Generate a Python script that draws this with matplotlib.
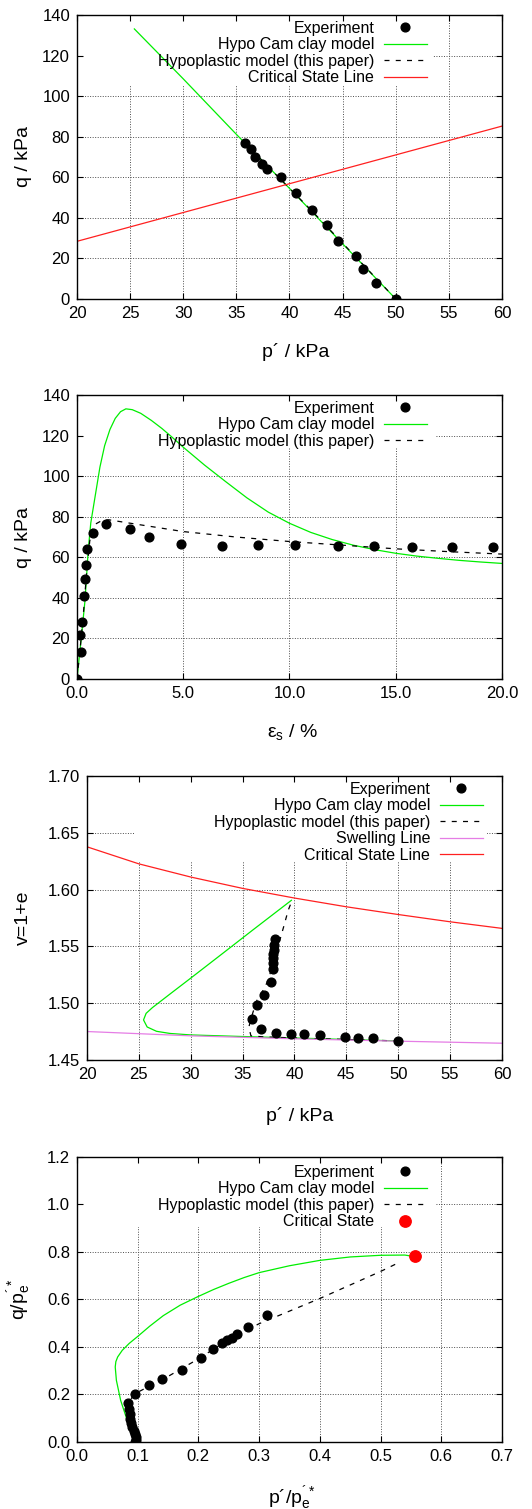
import numpy as np
import matplotlib
matplotlib.use("Agg")
import matplotlib.pyplot as plt
from matplotlib.patches import Rectangle

plt.rcParams['font.family'] = ['Liberation Sans', 'DejaVu Sans']
plt.rcParams['mathtext.fontset'] = 'custom'
plt.rcParams['mathtext.rm'] = 'Liberation Sans'
plt.rcParams['mathtext.it'] = 'Liberation Sans'
plt.rcParams['mathtext.default'] = 'regular'

# ---- panel 1: stress path p' - q
p1_exp = [35.8, 36.4, 36.8, 37.4, 37.9, 39.2, 40.6, 42.1, 43.5, 44.6, 46.3, 46.9, 48.1, 50.0]
q1_exp = [76.8, 73.9, 70.2, 66.6, 64.2, 60.2, 52.4, 44.0, 36.4, 28.4, 21.0, 14.8, 8.0, 0.0]
p1_cam = [25.4, 30.0, 35.1, 40.0, 45.0, 50.0]
q1_cam = [133.1, 108.5, 80.6, 54.5, 27.2, 0.0]
p1_hypo = [35.7, 37.0, 38.5, 40.0, 42.0, 44.0, 46.0, 48.0, 50.0]
q1_hypo = [77.5, 70.5, 62.5, 54.5, 44.0, 33.0, 22.0, 11.0, 0.0]
p1_csl = [20.0, 60.0]
q1_csl = [28.4, 85.2]

# ---- panel 2: shear strain - q
eps2_exp = [0.0, 0.17, 0.14, 0.24, 0.35, 0.38, 0.42, 0.49, 0.77, 1.38, 2.51, 3.40,
            4.91, 6.82, 8.53, 10.27, 12.30, 14.0, 15.76, 17.66, 19.6]
q2_exp = [0.0, 13.1, 21.7, 27.9, 40.7, 49.4, 56.3, 64.0, 71.9, 76.5, 74.2, 70.1,
          66.6, 65.8, 66.1, 66.3, 65.8, 65.8, 65.3, 65.3, 65.0]
eps2_cam = [0.0, 0.2, 0.38, 0.53, 0.65, 0.9, 1.08, 1.3, 1.55, 1.8, 2.05, 2.3, 2.6, 3.0,
            3.5, 4.0, 4.5, 5.0, 6.0, 7.0, 8.0, 9.0, 10.0, 11.0, 12.0, 13.0, 14.0, 15.0,
            16.0, 17.0, 18.0, 19.0, 20.0]
q2_cam = [0.0, 20.0, 39.0, 63.7, 77.0, 93.0, 104.5, 115.0, 123.0, 128.5, 131.8, 133.2, 132.8,
          131.0, 127.5, 123.5, 119.0, 114.3, 105.5, 97.3, 89.3, 82.3, 76.8, 72.3, 68.8, 66.0,
          63.8, 62.0, 60.6, 59.5, 58.5, 57.7, 57.0]
eps2_hypo = [0.0, 0.15, 0.3, 0.45, 0.6, 0.8, 1.2, 1.5, 3.0, 5.0, 7.5, 10.0, 12.5, 15.0, 17.5, 20.0]
q2_hypo = [0.0, 15.0, 32.0, 52.0, 68.0, 76.0, 78.3, 78.5, 76.0, 72.7, 70.0, 67.8, 66.0, 64.2, 62.8, 61.6]

# ---- panel 3: p' - specific volume
p3_exp = [50.0, 47.6, 46.1, 44.9, 42.5, 40.9, 39.7, 38.2, 36.8, 35.9, 36.35, 37.1, 37.7,
          37.9, 37.9, 37.95, 37.97, 38.0, 38.05, 38.08]
v3_exp = [1.4667, 1.4696, 1.4693, 1.4704, 1.4718, 1.4726, 1.4730, 1.4736, 1.4770, 1.4862,
          1.4982, 1.5070, 1.5190, 1.5298, 1.5350, 1.5395, 1.5433, 1.5468, 1.5512, 1.5561]
p3_cam = [50.0, 45.0, 40.0, 35.0, 30.0, 28.0, 26.7, 25.8, 25.45, 25.7, 26.3, 28.0, 30.0, 33.0, 36.0, 39.7]
v3_cam = [1.4667, 1.4680, 1.4693, 1.4706, 1.4720, 1.4733, 1.4752, 1.4790, 1.4852, 1.4910,
          1.4960, 1.5080, 1.5220, 1.5432, 1.5645, 1.5905]
p3_hypo = [50.0, 45.0, 40.0, 37.0, 35.8, 35.6, 36.0, 36.4, 37.2, 38.0, 38.5, 38.95, 39.4, 39.75]
v3_hypo = [1.4667, 1.4680, 1.4693, 1.4703, 1.4712, 1.4790, 1.4920, 1.5030, 1.5146, 1.5350,
           1.5526, 1.5670, 1.5819, 1.5900]
p3_swell = [20.0, 30.0, 40.0, 50.0, 60.0]
v3_swell = [1.4750, 1.4712, 1.4686, 1.4665, 1.4647]
p3_csl = [20.0, 25.0, 30.0, 35.0, 40.0, 45.0, 50.0, 55.0, 60.0]
v3_csl = [1.6376, 1.6226, 1.6110, 1.6010, 1.5925, 1.5848, 1.5780, 1.5716, 1.5658]

# ---- panel 4: normalised stress path
pn_exp = [0.0961, 0.0978, 0.0973, 0.0951, 0.0935, 0.0914, 0.0897, 0.0880, 0.0870, 0.0854,
          0.0838, 0.0956, 0.1178, 0.1405, 0.1724, 0.2043, 0.2243, 0.2384, 0.2473, 0.2545,
          0.2634, 0.2812, 0.3134]
qn_exp = [0.0, 0.0105, 0.0204, 0.0344, 0.0456, 0.0625, 0.0793, 0.0975, 0.1186, 0.1396,
          0.165, 0.2030, 0.2410, 0.2645, 0.3040, 0.3545, 0.3920, 0.4160, 0.4274, 0.4387,
          0.4556, 0.4838, 0.5364]
pn_cam = [0.0975, 0.0827, 0.0719, 0.0649, 0.0630, 0.0640, 0.0670, 0.0746, 0.0860, 0.0989,
          0.12, 0.1422, 0.17, 0.2, 0.225, 0.25, 0.275, 0.3, 0.35, 0.4, 0.45, 0.5, 0.54, 0.553]
qn_cam = [0.0, 0.0912, 0.1754, 0.2596, 0.3158, 0.3380, 0.3580, 0.386, 0.4150, 0.4421,
          0.4880, 0.5320, 0.5760, 0.6130, 0.6420, 0.6680, 0.6920, 0.7130, 0.742, 0.7646,
          0.7790, 0.7860, 0.7870, 0.7816]
pn_hypo = [0.0961, 0.0950, 0.0900, 0.0860, 0.0840, 0.0956, 0.15, 0.2, 0.25, 0.3, 0.35,
           0.4, 0.45, 0.5, 0.532]
qn_hypo = [0.0, 0.03, 0.08, 0.13, 0.165, 0.2035, 0.276, 0.350, 0.432, 0.498, 0.551,
           0.6042, 0.661, 0.718, 0.7576]
pn_cs = [0.5565]
qn_cs = [0.7816]

GREEN = '#00ee00'
RED = '#ff2020'
VIOLET = '#e57de5'
DASH = (0, (4, 5))


def style_axes(ax, xticks, yticks, xfmt, yfmt, box):
    ax.set_xlim(xticks[0], xticks[-1])
    ax.set_ylim(yticks[0], yticks[-1])
    ax.set_xticks(xticks)
    ax.set_yticks(yticks)
    ax.set_xticklabels([xfmt % t for t in xticks])
    ax.set_yticklabels([yfmt % t for t in yticks])
    ax.tick_params(direction='in', top=True, right=True, length=4, width=0.8,
                   labelsize=12, pad=5)
    for s in ax.spines.values():
        s.set_linewidth(1.0)
    # gnuplot style dotted grid
    for t in xticks[1:-1]:
        ax.axvline(t, color='0.3', lw=0.7, ls=(0, (1, 1.6)), zorder=0.5)
    for t in yticks[1:-1]:
        ax.axhline(t, color='0.3', lw=0.7, ls=(0, (1, 1.6)), zorder=0.5)
    # opaque key area hides grid only
    x0, x1, y0 = box
    ax.add_patch(Rectangle((x0, y0), x1 - x0, 1 - y0, transform=ax.transAxes,
                           facecolor='white', edgecolor='none', zorder=0.7))


def key(ax, anchor):
    leg = ax.legend(loc='upper right', bbox_to_anchor=anchor, frameon=False,
                    markerfirst=False, fontsize=11.5, handlelength=2.7,
                    handletextpad=0.6, labelspacing=0.1, borderpad=0,
                    borderaxespad=0, numpoints=1)
    return leg


fig = plt.figure(figsize=(5.32, 15.09), dpi=100)

# panel 1
ax = fig.add_axes([0.1447, 0.8019, 0.7989, 0.1882])
ax.plot(p1_exp, q1_exp, 'o', color='k', ms=6.3, label='Experiment', zorder=3)
ax.plot(p1_cam, q1_cam, color=GREEN, lw=0.9, label='Hypo Cam clay model', zorder=2)
ax.plot(p1_hypo, q1_hypo, color='k', lw=0.9, ls=DASH, label='Hypoplastic model (this paper)', zorder=2)
ax.plot(p1_csl, q1_csl, color=RED, lw=0.9, label='Critical State Line', zorder=2)
style_axes(ax, np.arange(20, 61, 5), np.arange(0, 141, 20), '%d', '%d', (0.0, 0.838, 0.754))
key(ax, (0.8235, 0.98))
ax.set_ylabel('q / kPa', fontsize=14)
ax.yaxis.set_label_coords(-0.106, 0.5)
ax.set_xlabel('p\u00b4 / kPa', fontsize=14)
ax.xaxis.set_label_coords(0.515, -0.155)

# panel 2
ax = fig.add_axes([0.1447, 0.5500, 0.7989, 0.1882])
ax.plot(eps2_exp, q2_exp, 'o', color='k', ms=6.3, label='Experiment', zorder=3)
ax.plot(eps2_cam, q2_cam, color=GREEN, lw=0.9, label='Hypo Cam clay model', zorder=2)
ax.plot(eps2_hypo, q2_hypo, color='k', lw=0.9, ls=DASH, label='Hypoplastic model (this paper)', zorder=2)
style_axes(ax, np.arange(0, 20.1, 5), np.arange(0, 141, 20), '%.1f', '%d', (0.0, 0.842, 0.813))
key(ax, (0.8235, 0.98))
ax.set_ylabel('q / kPa', fontsize=14)
ax.yaxis.set_label_coords(-0.106, 0.5)
ax.set_xlabel('\u03b5$_{s}$ / %', fontsize=14)
ax.xaxis.set_label_coords(0.508, -0.15)

# panel 3
ax = fig.add_axes([0.1635, 0.2976, 0.7801, 0.1882])
ax.plot(p3_exp, v3_exp, 'o', color='k', ms=6.3, label='Experiment', zorder=3)
ax.plot(p3_cam, v3_cam, color=GREEN, lw=0.9, label='Hypo Cam clay model', zorder=2)
ax.plot(p3_hypo, v3_hypo, color='k', lw=0.9, ls=DASH, label='Hypoplastic model (this paper)', zorder=2)
ax.plot(p3_swell, v3_swell, color=VIOLET, lw=0.9, label='Swelling Line', zorder=2)
ax.plot(p3_csl, v3_csl, color=RED, lw=0.9, label='Critical State Line', zorder=2)
style_axes(ax, np.arange(20, 61, 5), np.linspace(1.45, 1.70, 6), '%d', '%.2f', (0.113, 0.963, 0.697))
key(ax, (0.954, 0.98))
ax.set_ylabel('v=1+e', fontsize=14)
ax.yaxis.set_label_coords(-0.1325, 0.5)
ax.set_xlabel('p\u00b4 / kPa', fontsize=14)
ax.xaxis.set_label_coords(0.513, -0.165)

# panel 4
ax = fig.add_axes([0.1447, 0.0444, 0.7989, 0.1889])
ax.plot(pn_exp, qn_exp, 'o', color='k', ms=6.3, label='Experiment', zorder=3)
ax.plot(pn_cam, qn_cam, color=GREEN, lw=0.9, label='Hypo Cam clay model', zorder=2)
ax.plot(pn_hypo, qn_hypo, color='k', lw=0.9, ls=DASH, label='Hypoplastic model (this paper)', zorder=2)
ax.plot(pn_cs, qn_cs, 'o', color='#ff0000', ms=8.2, label='Critical State', zorder=4)
style_axes(ax, np.linspace(0, 0.7, 8), np.linspace(0, 1.2, 7), '%.1f', '%.1f', (0.0, 0.842, 0.754))
key(ax, (0.8235, 0.973))
ax.set_ylabel('q/p$^{\u00b4*}_{e}$', fontsize=14)
ax.yaxis.set_label_coords(-0.1035, 0.5)
ax.set_xlabel('p\u00b4/p$^{\u00b4*}_{e}$', fontsize=14)
ax.xaxis.set_label_coords(0.505, -0.145)

fig.savefig('out.png', dpi=100)
